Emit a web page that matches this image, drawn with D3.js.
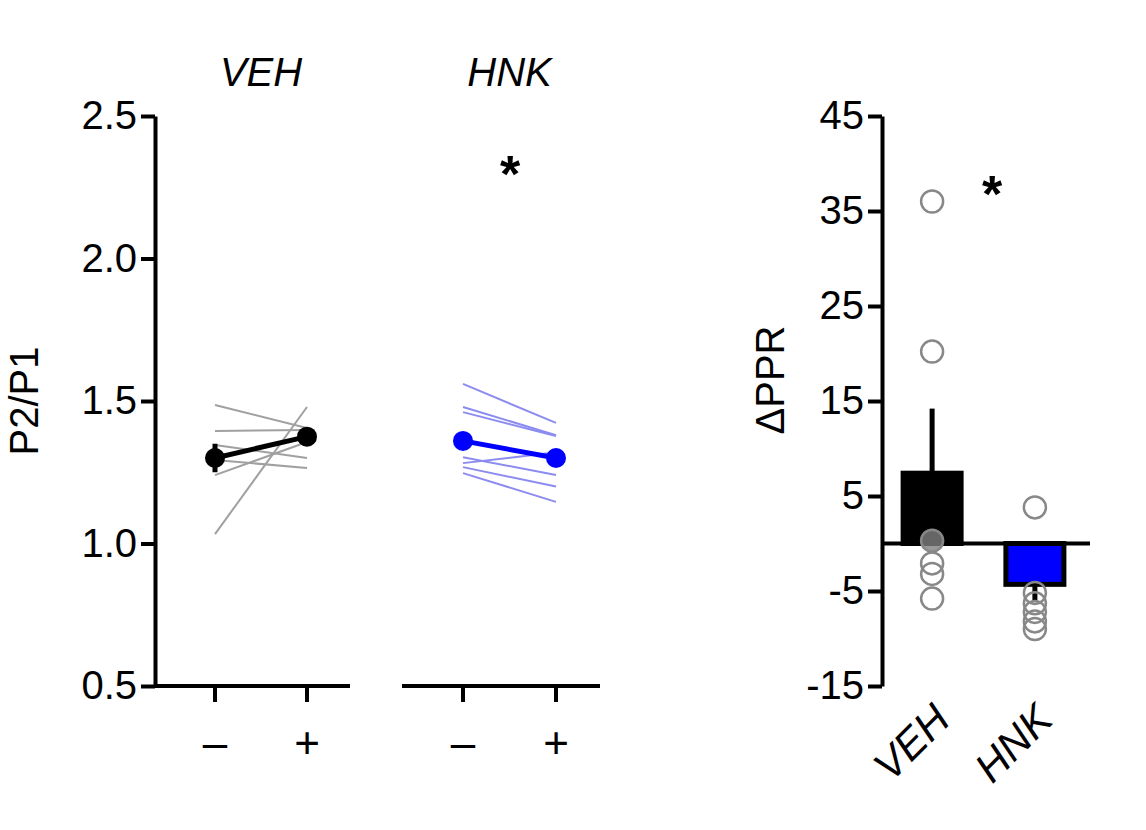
<!DOCTYPE html>
<html><head><meta charset="utf-8">
<script src="https://cdn.jsdelivr.net/npm/d3@7"></script>
<style>body{margin:0;background:#fff}text{font-family:Arial,"Liberation Sans",sans-serif;fill:#000}</style>
</head><body><svg width="1146" height="830"></svg>
<script>
// paired P2/P1 values (before, after)
const vehPairs = [[1.486,1.405],[1.395,1.398],[1.346,1.30],[1.293,1.265],[1.24,1.356],[1.033,1.479]];
const hnkPairs = [[1.56,1.423],[1.479,1.38],[1.461,1.377],[1.303,1.24],[1.282,1.32],[1.268,1.20],[1.247,1.146]];
const vehMean = [1.30,1.375], vehErr = [0.05,0.02];
const hnkMean = [1.36,1.30], hnkErr = [0.02,0.02];
const leftTicks = [0.5,1.0,1.5,2.0,2.5];
// ΔPPR
const groups = ["VEH","HNK"];
const barMeans = [7.4,-4.3];
const barErr = [6.8,1.8];
const vehDots = [36,20.2,0.3,-2.1,-3.2,-5.8];
const hnkDots = [3.8,-5.2,-6.3,-7.2,-8.2,-9.0];
const rightTicks = [-15,-5,5,15,25,35,45];

const svg = d3.select("svg");
const y1 = d3.scaleLinear().domain([0.5,2.5]).range([686,116]);

svg.append("g").attr("transform","translate(155,0)")
  .call(d3.axisLeft(y1).tickValues(leftTicks).tickFormat(d3.format(".1f")).tickSize(14).tickSizeOuter(0))
  .call(g=>{g.attr("font-size",null).attr("font-family",null);
            g.selectAll("path,line").attr("stroke","#000").attr("stroke-width",4);
            g.selectAll("text").style("font-size","40px").attr("x",-18);});

function panel(x0,x1,pairs,mean,err,light,dark,title,axStart,axEnd){
  const x = d3.scalePoint().domain(["−","+"]).range([x0,x1]);
  const g = svg.append("g");
  g.append("line").attr("x1",axStart).attr("x2",axEnd).attr("y1",686).attr("y2",686).attr("stroke","#000").attr("stroke-width",4);
  ["−","+"].forEach(k=>{
    g.append("line").attr("x1",x(k)).attr("x2",x(k)).attr("y1",686).attr("y2",702).attr("stroke","#000").attr("stroke-width",4);
    g.append("text").attr("x",x(k)).attr("y",758).attr("text-anchor","middle").style("font-size","44px").text(k==="−"?"–":"+");
  });
  pairs.forEach(p=>g.append("line").attr("x1",x("−")).attr("x2",x("+")).attr("y1",y1(p[0])).attr("y2",y1(p[1]))
    .attr("stroke",light).attr("stroke-width",2));
  ["−","+"].forEach((k,i)=>g.append("line").attr("x1",x(k)).attr("x2",x(k))
    .attr("y1",y1(mean[i]-err[i])).attr("y2",y1(mean[i]+err[i])).attr("stroke",dark).attr("stroke-width",5));
  g.append("line").attr("x1",x("−")).attr("x2",x("+")).attr("y1",y1(mean[0])).attr("y2",y1(mean[1]))
    .attr("stroke",dark).attr("stroke-width",5);
  mean.forEach((m,i)=>g.append("circle").attr("cx",x(["−","+"][i])).attr("cy",y1(m)).attr("r",10).attr("fill",dark));
  g.append("text").attr("x",(x0+x1)/2).attr("y",86).attr("text-anchor","middle").style("font-size","40px")
    .attr("font-style","italic").text(title);
}
panel(215,307,vehPairs,vehMean,vehErr,"#a0a0a0","#000","VEH",155,350);
panel(463,556,hnkPairs,hnkMean,hnkErr,"#8c8cf0","#0000ff","HNK",402,600);
svg.append("text").attr("x",510).attr("y",192).attr("text-anchor","middle").style("font-size","52px").attr("font-weight","bold").text("*");
svg.append("text").attr("transform","translate(38,401) rotate(-90)").attr("text-anchor","middle").style("font-size","40px").text("P2/P1");

// right panel
const y2 = d3.scaleLinear().domain([-15,45]).range([686,116]);
const x2 = d3.scaleBand().domain(groups).range([891,1076]).paddingInner(0.3).paddingOuter(0.05);
svg.append("g").attr("transform","translate(882,0)")
  .call(d3.axisLeft(y2).tickValues(rightTicks).tickFormat(d=>String(d)).tickSize(14).tickSizeOuter(0))
  .call(g=>{g.attr("font-size",null).attr("font-family",null);
            g.selectAll("path,line").attr("stroke","#000").attr("stroke-width",4);
            g.selectAll("text").style("font-size","40px").attr("x",-18);});
const bw = 58;
groups.forEach((gname,i)=>{
  const cx = x2(gname)+x2.bandwidth()/2;
  const v = barMeans[i];
  const ey = v + (v>=0?barErr[i]:-barErr[i]);
  svg.append("line").attr("x1",cx).attr("x2",cx).attr("y1",y2(v)).attr("y2",y2(ey)).attr("stroke","#000").attr("stroke-width",5);
  svg.append("rect").attr("x",cx-bw/2).attr("width",bw).attr("y",y2(Math.max(0,v))).attr("height",Math.abs(y2(v)-y2(0)))
    .attr("fill",i===0?"#000":"#0000ff").attr("stroke","#000").attr("stroke-width",5);
});
svg.append("line").attr("x1",882).attr("x2",1090).attr("y1",y2(0)).attr("y2",y2(0)).attr("stroke","#000").attr("stroke-width",4);
[vehDots,hnkDots].forEach((ds,i)=>{
  const cx = x2(groups[i])+x2.bandwidth()/2;
  ds.forEach(d=>svg.append("circle").attr("cx",cx).attr("cy",y2(d)).attr("r",11)
    .attr("fill",(i===0&&Math.abs(d)<1)?"rgba(128,128,128,0.8)":"none").attr("stroke","#888").attr("stroke-width",2.5));
});
svg.append("text").attr("x",992).attr("y",212).attr("text-anchor","middle").style("font-size","52px").attr("font-weight","bold").text("*");
svg.append("text").attr("transform","translate(784,380) rotate(-90)").attr("text-anchor","middle").style("font-size","40px").text("ΔPPR");
groups.forEach(gname=>{
  const cx = x2(gname)+x2.bandwidth()/2;
  svg.append("text").attr("transform",`translate(${cx+20},${722}) rotate(-45)`).attr("text-anchor","end")
    .style("font-size","42px").attr("font-style","italic").text(gname);
});
</script></body></html>
